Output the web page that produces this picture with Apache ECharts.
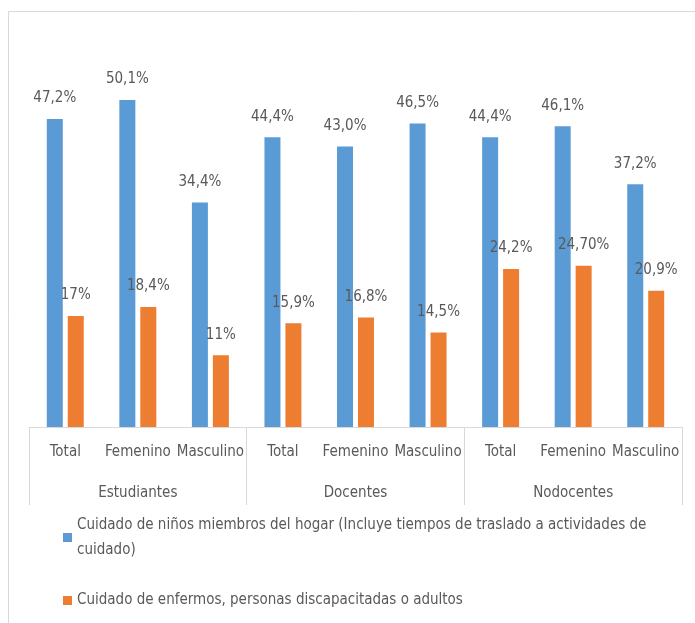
<!DOCTYPE html>
<html>
<head>
<meta charset="utf-8">
<script src="https://cdn.jsdelivr.net/npm/echarts@6/dist/echarts.min.js"></script>
<style>
html,body{margin:0;padding:0;background:#fff;}
#chart{width:695px;height:623px;}
</style>
</head>
<body>
<div id="chart"></div>
<script>
const categories = ['Total','Femenino','Masculino','Total','Femenino','Masculino','Total','Femenino','Masculino'];
const groups = ['Estudiantes','Docentes','Nodocentes'];
const seriesNames = [
  'Cuidado de niños miembros del hogar (Incluye tiempos de traslado a actividades de cuidado)',
  'Cuidado de enfermos, personas discapacitadas o adultos'
];
const ninosValues = [47.2, 50.1, 34.4, 44.4, 43.0, 46.5, 44.4, 46.1, 37.2];
const ninosLabels = ['47,2%','50,1%','34,4%','44,4%','43,0%','46,5%','44,4%','46,1%','37,2%'];
const enfermosValues = [17, 18.4, 11, 15.9, 16.8, 14.5, 24.2, 24.7, 20.9];
const enfermosLabels = ['17%','18,4%','11%','15,9%','16,8%','14,5%','24,2%','24,70%','20,9%'];

const FONT = '"Liberation Sans Narrow", "DejaVu Sans Condensed", sans-serif';
const TXT = '#595959';
const FS = 15;

const chart = echarts.init(document.getElementById('chart'), null, {renderer:'canvas'});
chart.setOption({
  animation: false,
  backgroundColor: '#ffffff',
  textStyle: {fontFamily: FONT},
  graphic: [{
    type: 'rect', silent: true,
    shape: {x: 8.5, y: 11.5, width: 720, height: 700},
    style: {fill: 'none', stroke: '#d9d9d9', lineWidth: 1}
  }],
  grid: {left: 29, right: 13, top: 35.5, bottom: 196, containLabel: false},
  xAxis: [{
    type: 'category', data: categories, position: 'bottom',
    axisLine: {show: true, lineStyle: {color: '#d9d9d9', width: 1}},
    axisTick: {show: false},
    axisLabel: {interval: 0, margin: 18, color: TXT, fontSize: FS, fontFamily: FONT}
  }, {
    type: 'category', data: groups, position: 'bottom',
    axisLine: {show: false},
    axisTick: {show: true, interval: 0, length: 78, lineStyle: {color: '#d9d9d9', width: 1}},
    axisLabel: {interval: 0, margin: 59, color: TXT, fontSize: FS, fontFamily: FONT}
  }],
  yAxis: {type: 'value', min: 0, max: 60, show: false, splitLine: {show: false}},
  legend: [{
    data: [seriesNames[0]],
    left: 63, top: 500, padding: 0,
    itemWidth: 9, itemHeight: 9, itemGap: 10,
    icon: 'rect',
    formatter: () => 'Cuidado de niños miembros del hogar (Incluye tiempos de traslado a actividades de\ncuidado)',
    textStyle: {color: TXT, fontSize: FS, fontFamily: FONT, lineHeight: 25, padding: [25, 0, 0, 0]}
  }, {
    data: [seriesNames[1]],
    left: 63, top: 588, padding: 0,
    itemWidth: 9, itemHeight: 9,
    icon: 'rect',
    textStyle: {color: TXT, fontSize: FS, fontFamily: FONT, lineHeight: 25}
  }],
  series: [{
    name: seriesNames[0], type: 'bar', data: ninosValues,
    barWidth: 16, barGap: '31%',
    itemStyle: {color: '#5B9BD5'},
    label: {show: true, position: 'top', distance: 13, color: TXT, fontSize: FS, fontFamily: FONT,
      formatter: p => ninosLabels[p.dataIndex]}
  }, {
    name: seriesNames[1], type: 'bar', data: enfermosValues,
    barWidth: 16, barGap: '31%',
    itemStyle: {color: '#ED7D31'},
    label: {show: true, position: 'top', distance: 13, color: TXT, fontSize: FS, fontFamily: FONT,
      formatter: p => enfermosLabels[p.dataIndex]}
  }]
});
</script>
</body>
</html>
